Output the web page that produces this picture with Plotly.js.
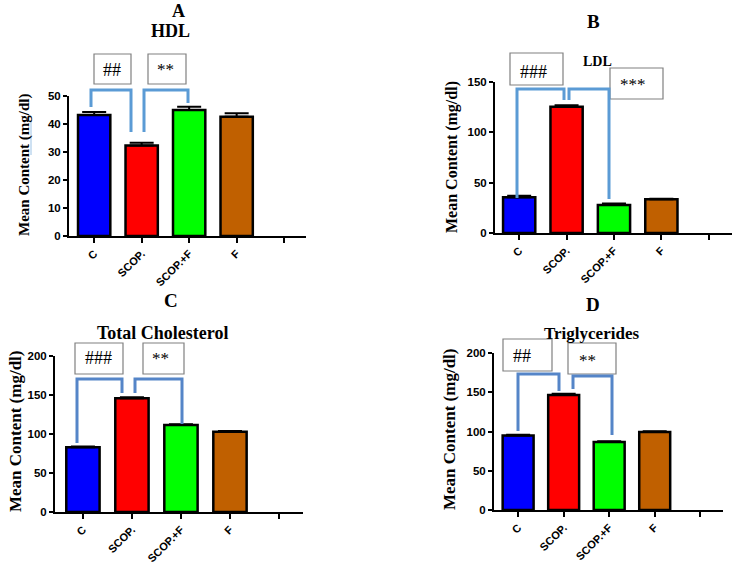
<!DOCTYPE html>
<html>
<head>
<meta charset="utf-8">
<script src="https://cdn.plot.ly/plotly-3.0.1.min.js"></script>
<style>
  html, body { margin: 0; padding: 0; background: #fff; }
  #chart { width: 733px; height: 565px; }
</style>
</head>
<body>
<div id="chart"></div>
<script>
// groups on the x axis (5th slot is empty, like the GraphPad original)
var groups = ["C", "SCOP.", "SCOP.+F", "F"];
var barColors = ["#0000ff", "#ff0000", "#00ff00", "#c06000"];

// A - HDL
var hdl = [43.2, 32.3, 45.0, 42.6];
var hdlErr = [1.1, 1.0, 1.2, 1.2];
// B - LDL
var ldl = [35.4, 125.5, 27.8, 33.5];
var ldlErr = [1.6, 1.3, 1.6, 0.5];
// C - Total cholesterol
var tc = [83.0, 145.7, 111.5, 103.0];
var tcErr = [1.0, 1.5, 1.0, 0.8];
// D - Triglycerides
var tg = [95.0, 146.5, 86.6, 99.4];
var tgErr = [1.0, 1.5, 1.0, 1.0];

var W = 733, H = 565;
function px(x) { return x / W; }
function py(y) { return 1 - y / H; }

var serif = "Liberation Serif, Times New Roman, serif";
var sans = "Liberation Sans, Arial, sans-serif";

function bars(vals, errs, n) {
    return {
        x: groups.map(function (g, i) { return i; }),
        y: vals,
        type: "bar",
        width: 0.68,
        xaxis: "x" + (n > 1 ? n : ""),
        yaxis: "y" + (n > 1 ? n : ""),
        marker: { color: barColors, line: { color: "#000", width: 2.5 } },
        error_y: {
            type: "data", symmetric: false, array: errs,
            arrayminus: errs.map(function () { return 0; }),
            color: "#000", thickness: 2, width: 12
        },
        hoverinfo: "y",
        showlegend: false
    };
}

function xax(l, r, rng, anchor) {
    return {
        domain: [px(l), px(r)], anchor: anchor, range: rng,
        tickmode: "array", tickvals: [0, 1, 2, 3, 4], ticktext: groups.concat([""]),
        tickangle: -45, ticks: "outside", ticklen: 5, tickwidth: 2, tickcolor: "#000",
        showline: true, linecolor: "#000", linewidth: 2,
        showgrid: false, zeroline: false, fixedrange: true,
        tickfont: { family: sans, size: 11, color: "#000", weight: "bold" }
    };
}

function yax(top, bottom, max, step, anchor) {
    return {
        domain: [py(bottom), py(top)], anchor: anchor, range: [0, max], dtick: step,
        ticks: "outside", ticklen: 4, tickwidth: 2, tickcolor: "#000",
        showline: true, linecolor: "#000", linewidth: 2,
        showgrid: false, zeroline: false, fixedrange: true,
        tickfont: { family: sans, size: 11.5, color: "#000", weight: "bold" }
    };
}

function label(text, x, y, size, opts) {
    var a = {
        text: text, xref: "paper", yref: "paper", x: px(x), y: py(y),
        xanchor: "center", yanchor: "middle", showarrow: false,
        font: { family: serif, size: size, color: "#000", weight: "bold" }
    };
    for (var k in (opts || {})) a[k] = opts[k];
    return a;
}

function box(x0, y0, x1, y1) {
    return {
        type: "rect", xref: "paper", yref: "paper",
        x0: px(x0), x1: px(x1), y0: py(y1), y1: py(y0),
        line: { color: "#808080", width: 1.2 }, fillcolor: "rgba(0,0,0,0)"
    };
}

function bracket(xs, ys, color) {
    var d = xs.map(function (x, i) {
        return (i === 0 ? "M" : "L") + px(x) + "," + py(ys[i]);
    }).join(" ");
    return {
        type: "path", xref: "paper", yref: "paper", path: d,
        line: { color: color, width: 3 }
    };
}

var data = [
    bars(hdl, hdlErr, 1),
    bars(ldl, ldlErr, 2),
    bars(tc, tcErr, 3),
    bars(tg, tgErr, 4)
];

var blueA = "#5b9bd5", blueC = "#5585c8";

var layout = {
    width: W, height: H,
    margin: { l: 0, r: 0, t: 0, b: 0 },
    paper_bgcolor: "#fff", plot_bgcolor: "rgba(0,0,0,0)",
    bargap: 0.3,
    xaxis: xax(69, 306, [-0.53, 4.46], "y"),
    yaxis: yax(96, 236, 50, 10, "x"),
    xaxis2: xax(495, 732, [-0.51, 4.49], "y2"),
    yaxis2: yax(82, 233, 150, 50, "x2"),
    xaxis3: xax(55, 303, [-0.57, 4.49], "y3"),
    yaxis3: yax(356, 512, 200, 50, "x3"),
    xaxis4: xax(494, 723, [-0.53, 4.5], "y4"),
    yaxis4: yax(353, 510, 200, 50, "x4"),
    annotations: [
        // panel letters and titles
        label("A", 178, 11, 18),
        label("HDL", 170, 31, 18),
        label("B", 593, 21, 19),
        label("LDL", 597, 61, 14),
        label("C", 171, 300, 19),
        label("Total Cholesterol", 163, 333, 18),
        label("D", 593, 304, 19),
        label("Triglycerides", 591, 333, 17),
        // y titles
        label("Mean Content (mg/dl)", 24, 165, 15, { textangle: -90 }),
        label("Mean Content (mg/dl)", 452, 157, 16, { textangle: -90 }),
        label("Mean Content (mg/dl)", 15, 432, 17, { textangle: -90 }),
        label("Mean Content (mg/dl)", 449, 430, 17, { textangle: -90 }),
        // significance marks
        label("##", 112, 70, 18, { font: { family: serif, size: 18, color: "#000" } }),
        label("**", 165, 70, 17, { font: { family: serif, size: 17, color: "#000" } }),
        label("###", 518, 72, 18, { xanchor: "left", font: { family: serif, size: 18, color: "#000" } }),
        label("***", 618, 84, 17, { xanchor: "left", font: { family: serif, size: 17, color: "#000" } }),
        label("###", 98, 358, 18, { font: { family: serif, size: 18, color: "#000" } }),
        label("**", 160, 358, 17, { font: { family: serif, size: 17, color: "#000" } }),
        label("##", 511, 356, 18, { xanchor: "left", font: { family: serif, size: 18, color: "#000" } }),
        label("**", 577, 361, 17, { xanchor: "left", font: { family: serif, size: 17, color: "#000" } })
    ],
    shapes: [
        box(94, 54, 131, 84), box(148, 54, 186, 84),
        box(510, 53, 563, 85), box(610, 68, 663, 99),
        box(75, 343, 123, 374), box(143, 343, 184, 374),
        box(503, 339, 552, 371), box(568, 343, 616, 374),
        bracket([91, 91, 131, 131], [107, 90, 90, 132], blueA),
        bracket([144, 144, 188, 188], [132, 90, 90, 103], blueA),
        bracket([517, 517, 564, 564], [198, 89, 89, 100], blueA),
        bracket([569, 569, 609, 609], [100, 89, 89, 199], blueA),
        bracket([77, 77, 122, 122], [443, 379, 379, 393], blueC),
        bracket([135, 135, 182, 182], [393, 379, 379, 424], blueC),
        bracket([518, 518, 559, 559], [431, 374, 374, 391], blueC),
        bracket([573, 573, 612, 612], [389, 376, 376, 435], blueC),
        // stray thin stroke beside the first y title
        { type: "line", xref: "paper", yref: "paper", x0: px(31), x1: px(31), y0: py(155), y1: py(120),
          line: { color: "#9dc3e6", width: 1 } }
    ]
};

Plotly.newPlot("chart", data, layout, { staticPlot: true });
</script>
</body>
</html>
